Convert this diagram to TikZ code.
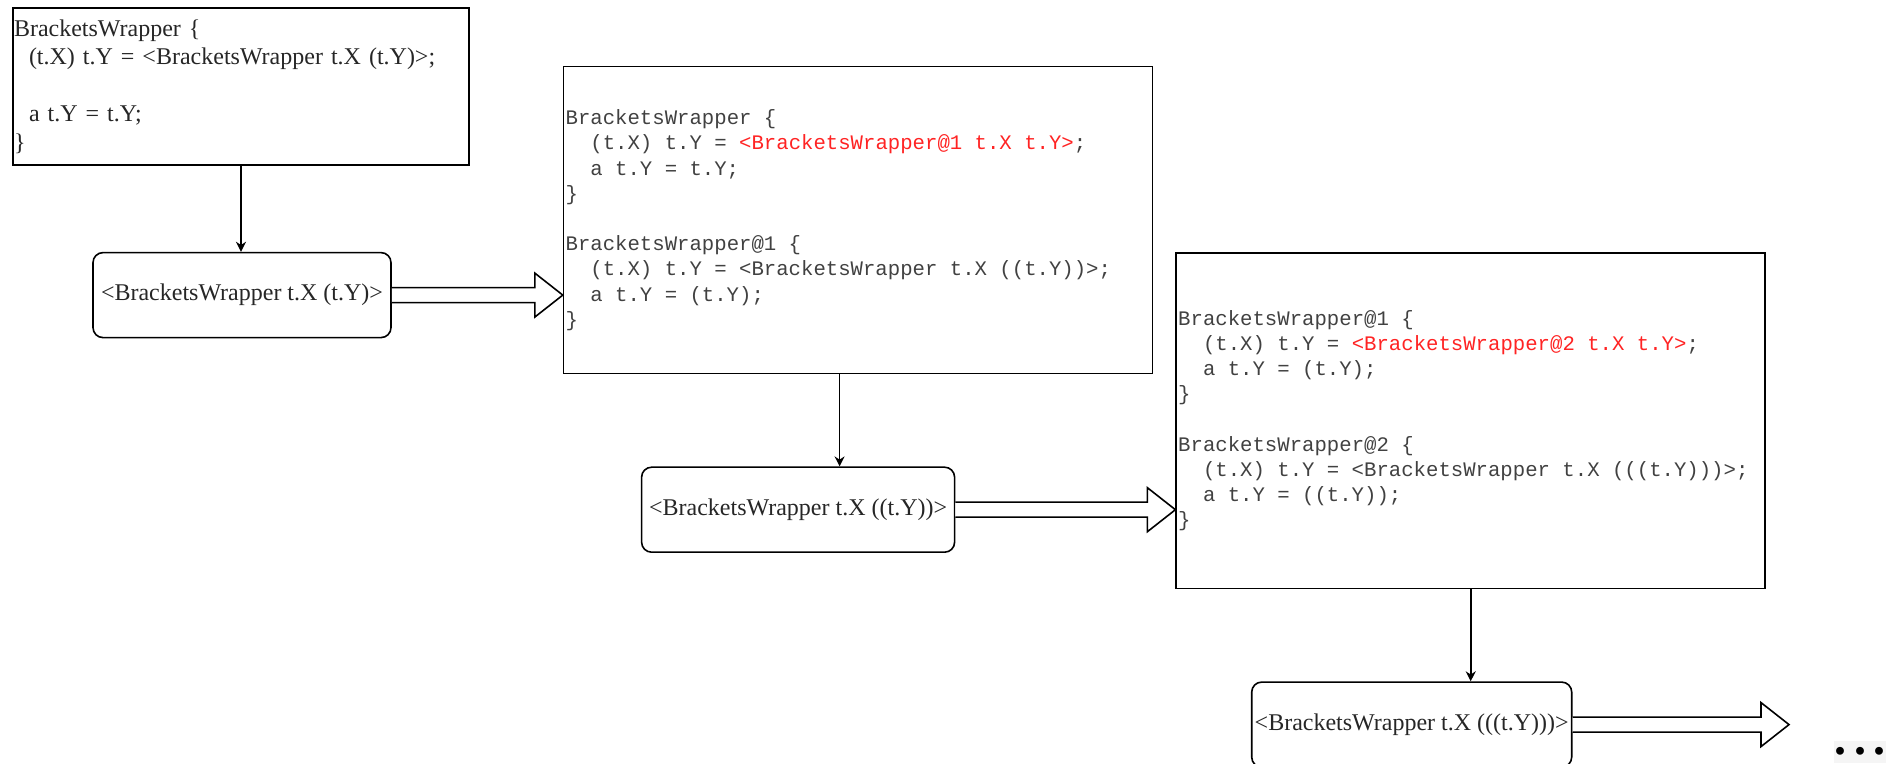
\documentclass[tikz,border=0pt]{standalone}
\usepackage{fontspec}
\setmainfont{Liberation Serif}
\setmonofont{Liberation Mono}
\usetikzlibrary{calc, positioning, arrows.meta}

\definecolor{wrapper_red}{RGB}{255,35,35}
\definecolor{code_gray}{RGB}{65,65,65}

\newcommand{\serifcode}{\fontsize{12pt}{14.25pt}\selectfont\frenchspacing}
\newcommand{\monocode}{\ttfamily\fontsize{10.33pt}{12.6pt}\selectfont\frenchspacing}
% fixed width spaces inside the code boxes
\newcommand{\monospaces}{\spaceskip=0.6em\xspaceskip=0.6em\relax}
\newcommand{\ind}{\hphantom{xx}}
\newcommand{\newcall}[1]{\textcolor{wrapper_red}{#1}}

% fat hollow arrow from #1 to the tip #2
\newcommand{\blockarrow}[2]{%
    \draw [block_arrow] ($(#1)+(0,3.75pt)$) -- ($(#2)+(-14pt,3.75pt)$)
        -- ($(#2)+(-14pt,11pt)$) -- (#2) -- ($(#2)+(-14pt,-11pt)$)
        -- ($(#2)+(-14pt,-3.75pt)$) -- ($(#1)+(0,-3.75pt)$);}

\tikzset{
    serif_box/.style={rectangle, draw=black, thick, align=left, inner xsep=0.5pt, inner ysep=0pt, text=black!85, font=\serifcode},
    code_box/.style={rectangle, draw=black, thick, align=left, inner xsep=1pt, inner ysep=0pt, text=code_gray, font=\monocode},
    call_node/.style={rectangle, rounded corners=5pt, draw=black, thick, minimum height=42.5pt, inner xsep=1pt, text centered, align=center, text=black!85, font=\serifcode},
    arrow/.style={thick, -{Stealth[length=5pt, width=5pt]}},
    block_arrow/.style={thick, fill=white, line join=miter},
    dots_node/.style={rectangle, fill=black!4, minimum width=26pt, minimum height=11pt, inner sep=0pt, font=\bfseries\fontsize{24pt}{24pt}\selectfont},
}

\begin{document}
\begin{tikzpicture}[node distance=45pt]
      \useasboundingbox (0,0) rectangle (943pt,-382pt);
      %%%%%%%%%%%%%%%%%%%
      % BRACKETSWRAPPER %
      %%%%%%%%%%%%%%%%%%%
      \node (code_box_0) [serif_box, text width=227pt, minimum height=78.5pt] at (120.5pt,-43.25pt)
            {BracketsWrapper \{\\
             \hspace*{7.5pt}(t.X) t.Y = <BracketsWrapper t.X (t.Y)>;\\
             \mbox{}\\
             \hspace*{7.5pt}a t.Y = t.Y;\\
             \}};
      \node (call_0) [call_node, minimum width=149pt, below = 43pt of code_box_0, xshift=0.5pt]
            {<BracketsWrapper t.X (t.Y)>};

      %%%%%%%%%%%%%%%%%%%%%
      % BRACKETSWRAPPER@1 %
      %%%%%%%%%%%%%%%%%%%%%
      \node (code_box_1) [code_box, text width=292.5pt, minimum height=153.5pt, right = 85.5pt of call_0, yshift=37.5pt]
            {\monospaces BracketsWrapper \{\\
             \ind(t.X) t.Y = \newcall{<BracketsWrapper@1 t.X t.Y>};\\
             \ind a t.Y = t.Y;\\
             \}\\
             \mbox{}\\
             BracketsWrapper@1 \{\\
             \ind(t.X) t.Y = <BracketsWrapper t.X ((t.Y))>;\\
             \ind a t.Y = (t.Y);\\
             \}};
      \node (call_1) [call_node, minimum width=156.5pt, below = 46pt of code_box_1, xshift=-30pt]
            {<BracketsWrapper t.X ((t.Y))>};

      %%%%%%%%%%%%%%%%%%%%%
      % BRACKETSWRAPPER@2 %
      %%%%%%%%%%%%%%%%%%%%%
      \node (code_box_2) [code_box, text width=292.5pt, minimum height=167.8pt, right = 110pt of call_1, yshift=44.5pt]
            {\monospaces BracketsWrapper@1 \{\\
             \ind(t.X) t.Y = \newcall{<BracketsWrapper@2 t.X t.Y>};\\
             \ind a t.Y = (t.Y);\\
             \}\\
             \mbox{}\\
             BracketsWrapper@2 \{\\
             \ind(t.X) t.Y = <BracketsWrapper t.X (((t.Y)))>;\\
             \ind a t.Y = ((t.Y));\\
             \}};
      \node (call_2) [call_node, minimum width=160pt, below = 46pt of code_box_2, xshift=-29.5pt]
            {<BracketsWrapper t.X (((t.Y)))>};

      \coordinate [right = 108.25pt of call_2] (tip_2);
      \node (more) [dots_node] at ($(tip_2)+(35.5pt,-13.5pt)$) {.\kern3.75pt.\kern3.75pt.};

      % connectors
      \coordinate (tip_0) at (call_0.east -| code_box_1.west);
      \coordinate (tip_1) at (call_1.east -| code_box_2.west);

      \draw [arrow] (code_box_0.south) -- (code_box_0.south |- call_0.north);
      \draw [arrow] ([xshift=-9.25pt]code_box_1.south) -- ([xshift=-9.25pt]code_box_1.south |- call_1.north);
      \draw [arrow] (code_box_2.south) -- (code_box_2.south |- call_2.north);

      \blockarrow{call_0.east}{tip_0}
      \blockarrow{call_1.east}{tip_1}
      \blockarrow{call_2.east}{tip_2}
   \end{tikzpicture}
\end{document}
